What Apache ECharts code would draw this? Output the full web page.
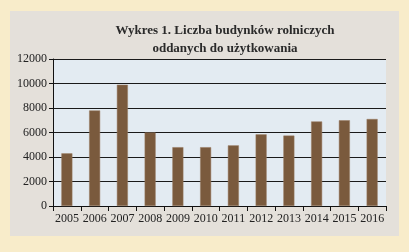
<!DOCTYPE html>
<html>
<head>
<meta charset="utf-8">
<script src="https://cdn.jsdelivr.net/npm/echarts@6/dist/echarts.min.js"></script>
<style>
  html, body { margin: 0; padding: 0; background: #f8ecca; }
  #chart { width: 409px; height: 252px; }
</style>
</head>
<body>
<div id="chart"></div>
<script>
const years = ["2005", "2006", "2007", "2008", "2009", "2010", "2011", "2012", "2013", "2014", "2015", "2016"];
const buildings = [4300, 7800, 9900, 6000, 4800, 4800, 4950, 5850, 5750, 6900, 7000, 7100];
const yTicks = [0, 2000, 4000, 6000, 8000, 10000, 12000];

const serif = "'Liberation Serif', 'DejaVu Serif', serif";
const chart = echarts.init(document.getElementById("chart"));

chart.setOption({
  animation: false,
  backgroundColor: "#f8ecca",
  graphic: [
    {
      type: "rect",
      z: -10,
      shape: { x: 10, y: 11, width: 389, height: 225 },
      style: { fill: "#e4e0da" }
    },
    {
      type: "rect",
      z: -5,
      shape: { x: 53, y: 59, width: 333, height: 147 },
      style: { fill: "#e3ebf2" }
    }
  ],
  title: {
    text: "Wykres 1. Liczba budynków rolniczych\noddanych do użytkowania",
    left: 220,
    top: 17,
    textAlign: "center",
    textStyle: {
      fontFamily: serif,
      fontSize: 13,
      fontWeight: "bold",
      color: "#2a2a2a",
      lineHeight: 18
    }
  },
  grid: { left: 53, right: 23, top: 59, bottom: 46 },
  xAxis: {
    type: "category",
    data: years,
    axisLine: { lineStyle: { color: "#111", width: 1 } },
    axisTick: { show: true, length: 5, lineStyle: { color: "#111" } },
    axisLabel: { interval: 0, fontFamily: serif, fontSize: 12, color: "#222", margin: 7 }
  },
  yAxis: {
    type: "value",
    min: yTicks[0],
    max: yTicks[yTicks.length - 1],
    interval: 2000,
    axisLine: { show: true, lineStyle: { color: "#111", width: 1 } },
    axisTick: { show: true, length: 4, lineStyle: { color: "#111" } },
    axisLabel: { fontFamily: serif, fontSize: 12, color: "#222", margin: 6, formatter: v => String(v) },
    splitLine: { lineStyle: { color: "#1a1a1a", width: 1 } }
  },
  series: [
    {
      type: "bar",
      data: buildings,
      barWidth: 11,
      itemStyle: { color: "#7a5a3d", borderColor: "#9a7d62", borderWidth: 0.5 }
    }
  ]
});
</script>
</body>
</html>
